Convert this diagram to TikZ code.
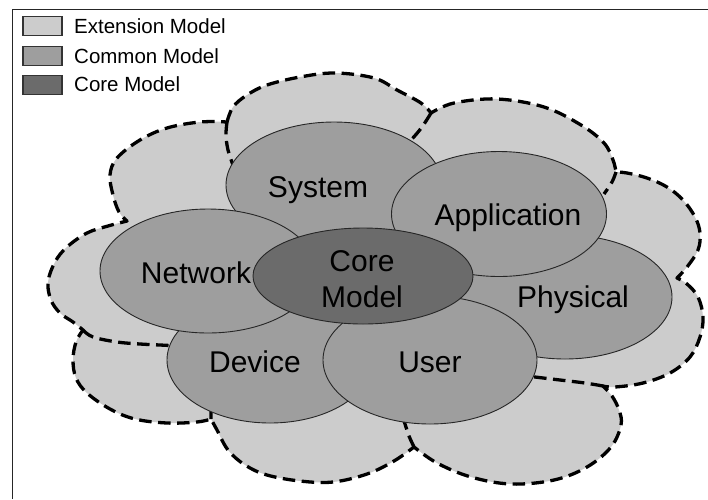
\documentclass[tikz,border=0pt]{standalone}
\usepackage{fontspec}
\setmainfont{Liberation Sans}
\usetikzlibrary{shapes.geometric}
\definecolor{extgray}{gray}{0.80}
\definecolor{comgray}{gray}{0.62}
\definecolor{coregray}{gray}{0.42}
\begin{document}
\begin{tikzpicture}[x=1pt,y=-1pt,
  cloudline/.style={line width=3.3pt, dash pattern=on 12.5pt off 6.5pt, line join=round},
  model/.style={ellipse, draw=black!85, line width=0.9pt, inner sep=0pt, outer sep=0pt, fill=comgray},
  lbl/.style={anchor=base, font=\fontsize{30}{36}\selectfont, inner sep=0pt, align=center},
  legbox/.style={draw=black!80, line width=1.2pt, minimum width=39pt, minimum height=19pt, inner sep=0pt},
  legtext/.style={anchor=base west, font=\fontsize{20.5}{24}\selectfont, inner sep=0pt}]
\useasboundingbox (0,0) rectangle (708,499);
\fill[white] (0,0) rectangle (708,499);
% frame
\draw[line width=1.3pt, black!85] (12.7,499) -- (12.7,9.3) -- (708,9.3);
% cloud (extension model)
\filldraw[fill=extgray, cloudline]
  plot[smooth, tension=0.6] coordinates {(227,122) (233,107) (247,95) (267,85) (300,77) (335,73) (374,78) (397,90) (421,103) (431,113)}
  -- plot[smooth, tension=0.6] coordinates {(431,113) (454,103) (497,99) (544,107) (581,125) (604,143) (613,160) (616,172)}
  -- plot[smooth, tension=0.6] coordinates {(616,172) (627,173) (647,178) (667,187) (683,200) (695,217) (700,233) (698,250) (687,267) (677,278)}
  -- plot[smooth, tension=0.6] coordinates {(677,278) (687,284) (698,297) (703,317) (700,337) (690,357) (670,373) (643,383) (615,387) (603,386)}
  -- plot[smooth, tension=0.6] coordinates {(603,386) (612,396) (619,410) (621,425) (611,447) (587,467) (554,480) (511,484) (471,477) (437,463) (414,447)}
  -- plot[smooth, tension=0.6] coordinates {(414,447) (394,461) (367,474) (333,482) (300,481) (267,475) (245,465) (228,450) (217,430) (211,419)}
  -- plot[smooth, tension=0.6] coordinates {(211,419) (197,422) (167,423) (135,419) (110,409) (87,393) (76,378) (73,360) (76,342) (83,330)}
  -- plot[smooth, tension=0.6] coordinates {(83,330) (73,322) (60,313) (51,300) (48,282) (55,262) (67,247) (87,233) (108,226) (127,221)}
  -- plot[smooth, tension=0.6] coordinates {(127,221) (119,212) (113,195) (110,175) (117,158) (140,140) (167,128) (200,122) (227,122)}
  -- cycle;
% inner edges of the bumps
\draw[cloudline] plot[smooth, tension=0.6] coordinates {(227,122) (226,135) (228,150) (233,165)};
\draw[cloudline] plot[smooth, tension=0.6] coordinates {(431,113) (422,127) (411,140) (400,150)};
\draw[cloudline] plot[smooth, tension=0.6] coordinates {(616,172) (612,182) (604,194)};
\draw[cloudline] plot[smooth, tension=0.6] coordinates {(603,386) (585,383) (560,380) (535,377) (520,375)};
\draw[cloudline] plot[smooth, tension=0.6] coordinates {(414,447) (409,436) (405,424) (402,415)};
\draw[cloudline] plot[smooth, tension=0.6] coordinates {(211,419) (211,411) (212,403)};
\draw[cloudline] plot[smooth, tension=0.6] coordinates {(83,330) (93,337) (117,342) (140,344) (160,345) (180,346)};
% common model
\node[model, minimum width=216pt, minimum height=126pt] (system) at (334,185) {};
\node[model, minimum width=214pt, minimum height=124pt] (physical) at (565,297) {};
\node[model, minimum width=206pt, minimum height=126pt] (device) at (270,360) {};
\node[model, minimum width=215pt, minimum height=125pt] (application) at (499,214) {};
\node[model, minimum width=216pt, minimum height=124pt] (network) at (208,271) {};
\node[model, minimum width=214pt, minimum height=128pt] (user) at (430,360) {};
% core model
\node[model, fill=coregray, minimum width=220pt, minimum height=96pt] (core) at (363,276) {};
% labels
\node[lbl] (tsystem) at (318,197) {System};
\node[lbl] (tapplication) at (508,225) {Application};
\node[lbl] (tnetwork) at (196,283) {Network};
\node[lbl] (tphysical) at (573,307) {Physical};
\node[lbl] (tdevice) at (255,372) {Device};
\node[lbl] (tuser) at (430,372) {User};
\node[lbl] (tcore) at (362,307) {Core\\Model};
% legend
\node[legbox, fill=extgray] (bext) at (42.5,26.3) {};
\node[legbox, fill=comgray] (bcom) at (42.5,55.8) {};
\node[legbox, fill=coregray] (bcore) at (42.5,85) {};
\node[legtext] (text) at (74,33.3) {Extension Model};
\node[legtext] (tcom) at (74,63.3) {Common Model};
\node[legtext] (tcoreleg) at (74,91) {Core Model};
\end{tikzpicture}
\end{document}
